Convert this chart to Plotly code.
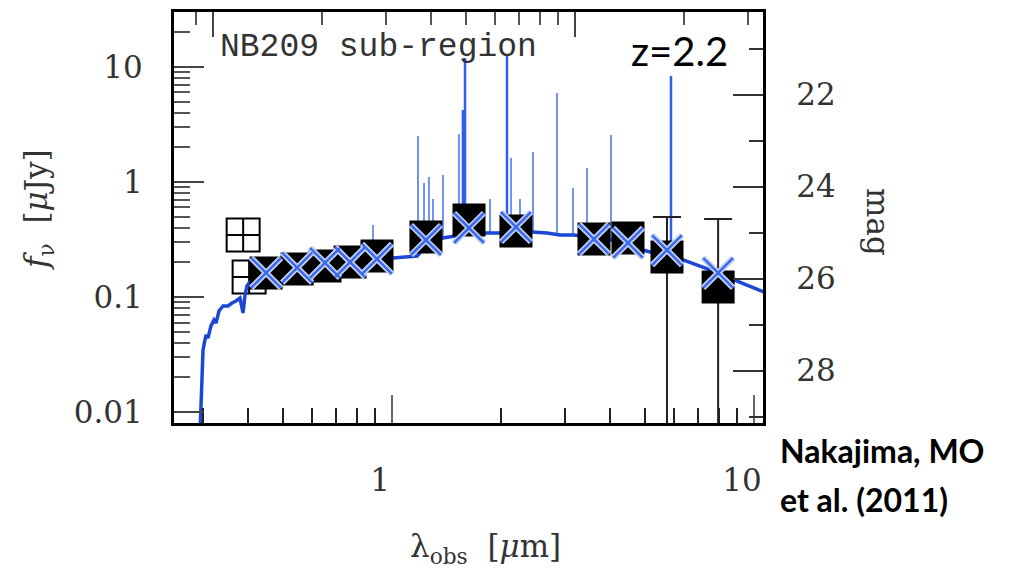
import plotly.graph_objects as go

# ---------------- data ----------------
# model spectrum (continuum), observed wavelength [um] and f_nu [uJy]
spec_wl = [0.2940, 0.2969, 0.3006, 0.3063, 0.3102, 0.3162, 0.3223, 0.3265, 0.3327, 0.3413,
           0.3523, 0.3614, 0.3707, 0.3802, 0.3877, 0.3926, 0.3975, 0.4104, 0.4319, 0.450,
           0.547, 0.653, 0.766, 0.903, 1.006, 1.086, 1.173, 1.249, 1.383, 1.493,
           1.622, 1.818, 1.987, 2.200, 2.436, 2.680, 2.910, 3.162, 3.614, 4.053,
           4.487, 4.935, 5.161, 5.75, 6.368, 7.23, 7.96, 8.81, 9.75, 10.66]
spec_fnu = [0.0050, 0.0127, 0.0346, 0.0468, 0.0439, 0.0560, 0.0631, 0.0594, 0.0755, 0.0835,
            0.0835, 0.0887, 0.0923, 0.098, 0.0726, 0.104, 0.1246, 0.1434, 0.152, 0.162,
            0.179, 0.194, 0.201, 0.214, 0.218, 0.223, 0.227, 0.283, 0.326, 0.339,
            0.360, 0.360, 0.360, 0.367, 0.367, 0.360, 0.346, 0.346, 0.332, 0.313,
            0.295, 0.256, 0.246, 0.237, 0.210, 0.182, 0.162, 0.1406, 0.1246, 0.1105]

# emission lines (light): wavelength, continuum base, peak
line_wl = [0.886, 1.180, 1.226, 1.265, 1.298, 1.383, 1.531, 1.865, 2.132, 2.257,
           2.452, 2.856, 3.162, 3.457, 4.027]
line_base = [0.214, 0.227, 0.26, 0.28, 0.30, 0.326, 0.34, 0.36, 0.36, 0.367,
             0.367, 0.35, 0.346, 0.335, 0.313]
line_peak = [0.423, 2.51, 0.98, 1.105, 0.711, 1.15, 2.61, 0.711, 1.62, 0.711,
             1.82, 5.94, 0.887, 1.32, 2.56]
# strong emission lines (dark)
sline_wl = [1.570, 1.591, 2.078, 5.898]
sline_base = [0.35, 0.355, 0.36, 0.232]
sline_peak = [4.23, 11.97, 12.7, 8.35]

# observed photometry (filled squares)
obs_wl = [0.449, 0.547, 0.653, 0.766, 0.909, 1.241, 1.632, 2.200, 3.614, 4.487, 5.75, 7.96]
obs_fnu = [0.162, 0.175, 0.186, 0.201, 0.227, 0.332, 0.467, 0.375, 0.319, 0.326, 0.223, 0.122]
obs_err_plus = [0, 0, 0, 0, 0, 0, 0, 0, 0, 0, 0.273, 0.355]
obs_err_minus = [0, 0, 0, 0, 0, 0, 0, 0, 0, 0, 0.223, 0.122]

# model photometry (crosses)
mod_fnu = [0.162, 0.180, 0.198, 0.201, 0.214, 0.313, 0.398, 0.406, 0.319, 0.295, 0.256, 0.162]

# upper-limit style open symbols
lim_wl = [0.388, 0.403]
lim_fnu = [0.346, 0.149]

# axis ticks
x_major = [1, 10]
x_minor = [0.3, 0.4, 0.5, 0.6, 0.7, 0.8, 0.9, 2, 3, 4, 5, 6, 7, 8, 9]
xrest_major = [0.1, 1]
xrest_minor = [0.09, 0.2, 0.3, 0.4, 0.5, 0.6, 0.7, 0.8, 0.9, 2, 3]
y_major = [0.01, 0.1, 1, 10]
y_labels = ["0.01", "0.1", "1", "10"]
y_minor = [0.02, 0.03, 0.04, 0.05, 0.06, 0.07, 0.08, 0.09,
           0.2, 0.3, 0.4, 0.5, 0.6, 0.7, 0.8, 0.9,
           2, 3, 4, 5, 6, 7, 8, 9, 20]
mag_major = [22, 24, 26, 28]
mag_minor = [21, 23, 25, 27, 29]

redshift = 2.2
ab_zero = 23.9  # mag of 1 uJy

# ---------------- figure ----------------
import math
x_lo, x_hi = -0.6022, 1.0249
y_lo, y_hi = -2.0957, 1.478

def segs(xs, y0s, y1s):
    X, Y = [], []
    for a, b, c in zip(xs, y0s, y1s):
        X += [a, a, None]
        Y += [b, c, None]
    return X, Y

fig = go.Figure()

lx, ly = segs(line_wl, line_base, line_peak)
fig.add_trace(go.Scatter(x=lx, y=ly, mode="lines",
                         line=dict(color="rgba(80,120,240,0.8)", width=2), hoverinfo="skip"))
sx, sy = segs(sline_wl, sline_base, sline_peak)
fig.add_trace(go.Scatter(x=sx, y=sy, mode="lines",
                         line=dict(color="#2f5ff0", width=2.5), hoverinfo="skip"))

fig.add_trace(go.Scatter(x=lim_wl, y=lim_fnu, mode="markers",
                         marker=dict(symbol="square-cross-open", size=33, color="black",
                                     line=dict(width=2, color="black"))))

fig.add_trace(go.Scatter(x=spec_wl, y=spec_fnu, mode="lines",
                         line=dict(color="#1a47d6", width=3.5)))

fig.add_trace(go.Scatter(x=obs_wl, y=obs_fnu, mode="markers",
                         marker=dict(symbol="square", size=33, color="black"),
                         error_y=dict(type="data", symmetric=False, array=obs_err_plus,
                                      arrayminus=obs_err_minus, color="#222",
                                      thickness=2, width=14)))

fig.add_trace(go.Scatter(x=obs_wl, y=mod_fnu, mode="markers",
                         marker=dict(symbol="x-thin", size=30, color="#c3d0f5",
                                     line=dict(width=6, color="#c3d0f5"))))
fig.add_trace(go.Scatter(x=obs_wl, y=mod_fnu, mode="markers",
                         marker=dict(symbol="x-thin", size=30, color="#3c6aee",
                                     line=dict(width=2.5, color="#3c6aee"))))

# invisible trace for secondary axes
fig.add_trace(go.Scatter(x=[1], y=[25], xaxis="x2", yaxis="y2", mode="markers",
                         marker=dict(opacity=0), hoverinfo="skip"))

tickfont = dict(family="DejaVu Serif", size=31, color="#333")

fig.update_layout(
    width=1021, height=578,
    margin=dict(l=174, r=258, t=12, b=155),
    paper_bgcolor="white", plot_bgcolor="white",
    showlegend=False,
    xaxis=dict(type="log", range=[x_lo, x_hi], showgrid=False, zeroline=False,
               showline=True, linecolor="black", linewidth=3,
               tickvals=x_major, ticktext=["1", "10"], ticks="inside", ticklen=28,
               tickwidth=2, tickcolor="#666", tickfont=tickfont,
               ticklabelstandoff=28, ticklabelshift=-12,
               minor=dict(tickvals=x_minor, ticks="inside", ticklen=15, tickwidth=2,
                          tickcolor="#222")),
    xaxis2=dict(type="log", overlaying="x", side="top", anchor="y",
                range=[x_lo - math.log10(1 + redshift), x_hi - math.log10(1 + redshift)],
                showgrid=False, zeroline=False, showline=True, linecolor="black",
                linewidth=3, tickvals=xrest_major, showticklabels=False, ticks="inside",
                ticklen=25, tickwidth=2, tickcolor="#444",
                minor=dict(tickvals=xrest_minor, ticks="inside", ticklen=13,
                           tickwidth=2, tickcolor="#555")),
    yaxis=dict(type="log", range=[y_lo, y_hi], showgrid=False, zeroline=False,
               showline=True, linecolor="black", linewidth=3,
               tickvals=y_major, ticktext=y_labels, ticks="inside", ticklen=30,
               tickwidth=2, tickcolor="#444", tickfont=tickfont, ticklabelstandoff=22,
               minor=dict(tickvals=y_minor, ticks="inside", ticklen=16, tickwidth=2,
                          tickcolor="#555")),
    yaxis2=dict(overlaying="y", side="right", anchor="x",
                range=[ab_zero - 2.5 * y_lo, ab_zero - 2.5 * y_hi],
                showgrid=False, zeroline=False, showline=True, linecolor="black",
                linewidth=3, tickvals=mag_major, ticks="inside", ticklen=30,
                tickwidth=2, tickcolor="#333", tickfont=tickfont, ticklabelstandoff=24,
                minor=dict(tickvals=mag_minor, ticks="inside", ticklen=14, tickwidth=2,
                           tickcolor="#333")),
)

def px(xp):
    return (xp - 174) / 589.0

def py(yp):
    return (423 - yp) / 411.0

annos = [
    dict(text="NB209 sub-region", x=px(218), y=py(47), xanchor="left", yanchor="middle",
         font=dict(family="Liberation Mono", size=33, color="#333")),
    dict(text="z=2.2", x=px(679), y=py(51), xanchor="center", yanchor="middle",
         font=dict(family="Lato", size=40, color="black")),
    dict(text="<i>f</i><sub>ν</sub>  [<i>μ</i>Jy]", x=px(38), y=py(210), textangle=-90,
         xanchor="center", yanchor="middle",
         font=dict(family="DejaVu Serif", size=31, color="#333")),
    dict(text="λ<sub>obs</sub>  [<i>μ</i>m]", x=px(485), y=py(548),
         xanchor="center", yanchor="middle",
         font=dict(family="DejaVu Serif", size=31, color="#333")),
    dict(text="mag", x=px(878), y=py(222), textangle=90,
         xanchor="center", yanchor="middle",
         font=dict(family="DejaVu Serif", size=31, color="#333")),
    dict(text="<b>Nakajima, MO</b>", x=px(778), y=py(450), xanchor="left", yanchor="middle",
         font=dict(family="Lato", size=32, color="black")),
    dict(text="<b>et al. (2011)</b>", x=px(778), y=py(500), xanchor="left", yanchor="middle",
         font=dict(family="Lato", size=32, color="black")),
]
for a in annos:
    a.update(xref="paper", yref="paper", showarrow=False)
fig.update_layout(annotations=annos)

fig.write_html("out.html")
